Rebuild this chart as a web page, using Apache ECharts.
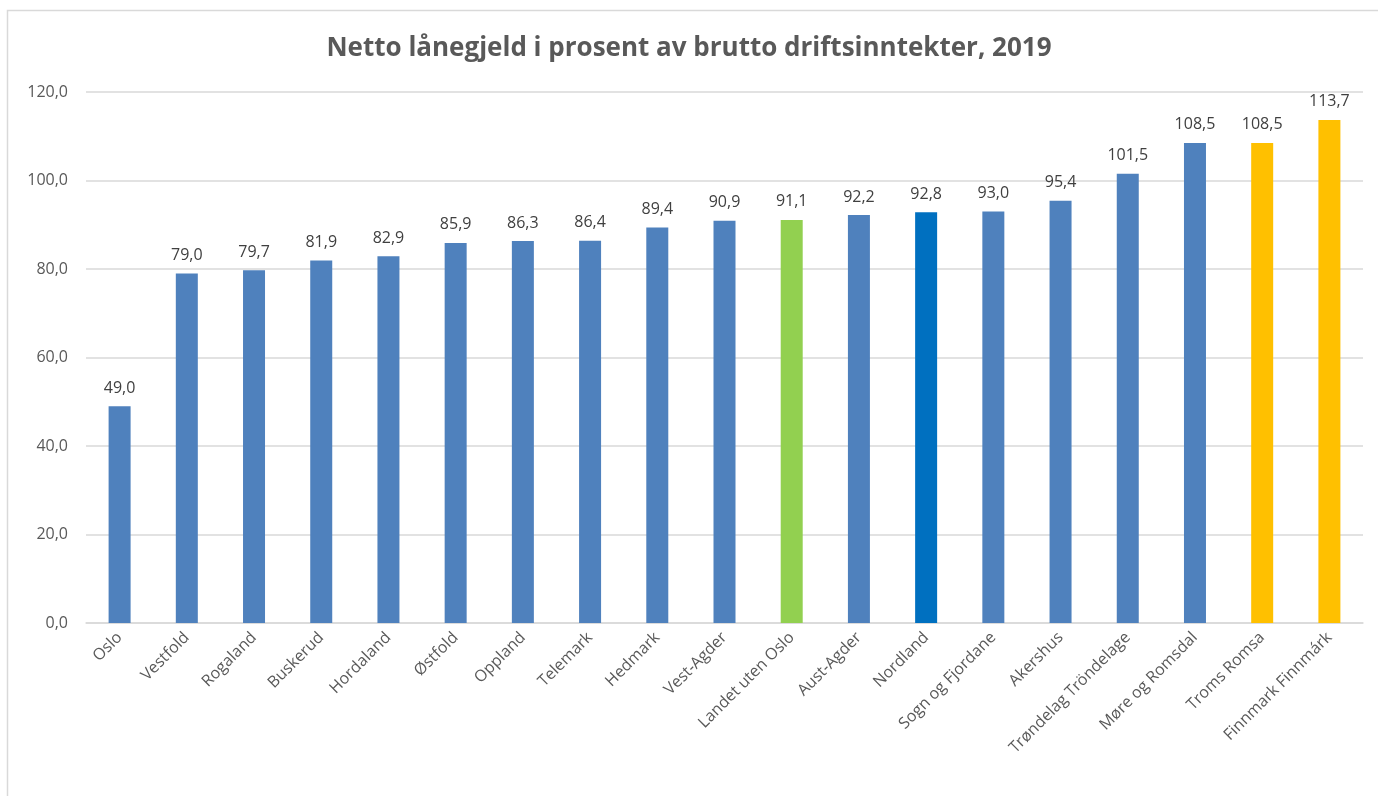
<!DOCTYPE html>
<html>
<head>
<meta charset="utf-8">
<script src="https://cdn.jsdelivr.net/npm/echarts@6/dist/echarts.min.js"></script>
<style>
  html, body { margin: 0; padding: 0; background: #fff; }
  #chart { width: 1378px; height: 796px; }
</style>
</head>
<body>
<div id="chart"></div>
<script>
const categories = ['Oslo', 'Vestfold', 'Rogaland', 'Buskerud', 'Hordaland', 'Østfold', 'Oppland',
  'Telemark', 'Hedmark', 'Vest-Agder', 'Landet uten Oslo', 'Aust-Agder', 'Nordland',
  'Sogn og Fjordane', 'Akershus', 'Trøndelag Tröndelage', 'Møre og Romsdal', 'Troms Romsa',
  'Finnmark Finnmárk']
const values = [49.0, 79.0, 79.7, 81.9, 82.9, 85.9, 86.3, 86.4, 89.4, 90.9, 91.1, 92.2, 92.8,
  93.0, 95.4, 101.5, 108.5, 108.5, 113.7]
// fargekoder per stolpe
const barColors = {
  'Landet uten Oslo': '#92D050',
  'Nordland': '#0070C0',
  'Troms Romsa': '#FFC000',
  'Finnmark Finnmárk': '#FFC000'
}
const defaultColor = '#4F81BD'

const fmt = v => v.toFixed(1).replace('.', ',')
const font = '"Open Sans", sans-serif'

const myChart = echarts.init(document.getElementById('chart'))
const option = {
  animation: false,
  graphic: [{
    type: 'rect',
    shape: { x: 7.5, y: 10.5, width: 1400, height: 800 },
    style: { fill: 'none', stroke: '#d9d9d9', lineWidth: 1.5 }
  }],
  title: {
    text: 'Netto lånegjeld i prosent av brutto driftsinntekter, 2019',
    left: 'center',
    top: 31,
    textStyle: { color: '#595959', fontSize: 26, fontWeight: 'bold', fontFamily: font }
  },
  grid: { left: 86, right: 15, top: 92, bottom: 173 },
  xAxis: {
    type: 'category',
    data: categories,
    axisLine: { lineStyle: { color: '#d9d9d9', width: 1.5 } },
    axisTick: { show: false },
    axisLabel: {
      interval: 0,
      rotate: 45,
      color: '#595959',
      fontSize: 16,
      fontFamily: font,
      margin: 12
    }
  },
  yAxis: {
    type: 'value',
    min: 0,
    max: 120,
    interval: 20,
    axisLine: { show: false },
    axisTick: { show: false },
    axisLabel: {
      color: '#595959',
      fontSize: 16,
      fontFamily: font,
      margin: 18,
      formatter: v => fmt(v)
    },
    splitLine: { lineStyle: { color: '#d9d9d9', width: 1.5 } }
  },
  series: [{
    type: 'bar',
    barWidth: 22,
    data: values.map((v, i) => ({
      value: v,
      itemStyle: { color: barColors[categories[i]] || defaultColor }
    })),
    label: {
      show: true,
      position: 'top',
      distance: 10,
      color: '#404040',
      fontSize: 16,
      fontFamily: font,
      formatter: p => fmt(p.value)
    }
  }]
}
myChart.setOption(option)
</script>
</body>
</html>
